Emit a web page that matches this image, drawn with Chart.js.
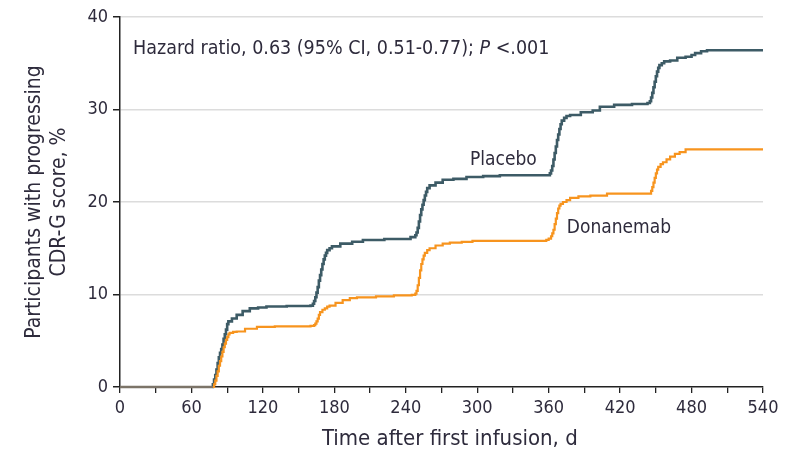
<!DOCTYPE html>
<html>
<head>
<meta charset="utf-8">
<script src="https://cdn.jsdelivr.net/npm/chart.js@4/dist/chart.umd.min.js"></script>
<style>
  html, body { margin: 0; padding: 0; background: #ffffff; }
  #wrap { width: 794px; height: 456px; }
</style>
</head>
<body>
<div id="wrap"><canvas id="km" width="794" height="456"></canvas></div>
<script>
// Cumulative share of participants with a progressing CDR-G score, [day, percent]
const placeboSteps = [
  [0,0],[77,0],[78,0.3],[79,0.8],[80,1.3],[81,1.9],[82,2.6],[83,3.2],[84,3.7],[85,4.1],
  [86,4.6],[87,5.2],[88,5.7],[89,6.2],[90,6.8],[91,7.1],[94,7.4],[98,7.8],[103,8.2],
  [109,8.5],[116,8.6],[123,8.7],[140,8.75],[160,8.8],[162,9.0],[163,9.3],[164,9.7],
  [165,10.2],[166,10.8],[167,11.5],[168,12.1],[169,12.7],[170,13.3],[171,13.8],[172,14.2],
  [173,14.5],[174,14.8],[176,15.0],[178,15.2],[185,15.5],[195,15.7],[204,15.9],[222,16.0],
  [244,16.2],[248,16.4],[249,16.7],[250,17.2],[251,17.9],[252,18.6],[253,19.2],[254,19.7],
  [255,20.2],[256,20.7],[257,21.1],[258,21.5],[260,21.8],[265,22.1],[271,22.4],[280,22.5],
  [291,22.7],[305,22.8],[319,22.9],[357,22.9],[361,23.1],[362,23.4],[363,23.9],[364,24.6],
  [365,25.3],[366,26.0],[367,26.7],[368,27.3],[369,27.9],[370,28.4],[371,28.8],[373,29.1],
  [375,29.3],[378,29.4],[387,29.7],[397,29.9],[403,30.3],[415,30.5],[430,30.6],[443,30.7],
  [445,30.9],[446,31.3],[447,31.8],[448,32.4],[449,33.0],[450,33.6],[451,34.1],[452,34.5],
  [453,34.8],[455,35.0],[457,35.2],[462,35.3],[468,35.6],[475,35.7],[480,35.9],[483,36.1],
  [488,36.3],[493,36.4],[540,36.4]
];
const donanemabSteps = [
  [0,0],[78,0],[79,0.3],[80,0.7],[81,1.2],[82,1.7],[83,2.3],[84,2.8],[85,3.3],[86,3.8],
  [87,4.3],[88,4.7],[89,5.1],[90,5.4],[91,5.7],[92,5.85],[95,5.95],[98,6.0],[105,6.3],
  [115,6.5],[130,6.55],[160,6.6],[163,6.7],[164,6.85],[165,7.1],[166,7.4],[167,7.8],
  [168,8.1],[170,8.35],[172,8.5],[174,8.7],[176,8.8],[181,9.1],[187,9.4],[193,9.6],
  [199,9.7],[215,9.8],[230,9.9],[245,9.95],[248,10.1],[249,10.4],[250,11.0],[251,11.8],
  [252,12.6],[253,13.3],[254,13.8],[255,14.2],[256,14.5],[258,14.8],[260,15.0],[265,15.3],
  [271,15.5],[277,15.6],[287,15.7],[296,15.8],[355,15.8],[358,15.9],[360,16.05],[362,16.3],
  [363,16.6],[364,17.0],[365,17.6],[366,18.2],[367,18.8],[368,19.3],[369,19.6],[370,19.8],
  [372,20.0],[375,20.2],[378,20.45],[385,20.6],[395,20.7],[409,20.9],[444,20.9],[446,21.2],
  [447,21.6],[448,22.1],[449,22.6],[450,23.1],[451,23.5],[452,23.8],[454,24.1],[456,24.3],
  [459,24.6],[462,24.9],[466,25.2],[470,25.4],[475,25.7],[540,25.7]
];
const seriesNames = ['Placebo', 'Donanemab'];
const dayTicks = [0, 60, 120, 180, 240, 300, 360, 420, 480, 540];
const pctTicks = [0, 10, 20, 30, 40];
const hazardParts = ['Hazard ratio, 0.63 (95% CI, 0.51-0.77); ', 'P', ' <.001'];
const xTitle = 'Time after first infusion, d';
const yTitle = ['Participants with progressing', 'CDR-G score, %'];

const FONT = "'DejaVu Sans Condensed', 'Liberation Sans Narrow', 'Open Sans', sans-serif";
const INK = '#2e2b3c';
const PLACEBO_COLOR = '#3d5b66';
const DONA_COLOR = '#f7941e';
const BASE_COLOR = '#7c7468';

const toPoints = steps => steps.map(([d, p]) => ({ x: d, y: p }));
const baseSegment = color => ctx => (ctx.p0.parsed.y === 0 && ctx.p1.parsed.y === 0) ? BASE_COLOR : color;

// Curve labels, the hazard-ratio note and the time-axis title
const notesPlugin = {
  id: 'notes',
  afterDatasetsDraw(chart) {
    const { ctx, scales: { x, y } } = chart;
    ctx.save();
    ctx.fillStyle = INK;
    ctx.textBaseline = 'middle';
    const normal = `19.5px ${FONT}`;
    const italic = `italic 19.5px ${FONT}`;

    // hazard ratio line
    let px = x.getPixelForValue(11);
    const py = y.getPixelForValue(36.5);
    ctx.textAlign = 'left';
    hazardParts.forEach((part, i) => {
      ctx.font = i === 1 ? italic : normal;
      ctx.fillText(part, px, py);
      px += ctx.measureText(part).width;
    });

    ctx.font = `19px ${FONT}`;
    ctx.textAlign = 'center';
    ctx.fillText(seriesNames[0], x.getPixelForValue(322), y.getPixelForValue(24.5));
    ctx.fillText(seriesNames[1], x.getPixelForValue(419), y.getPixelForValue(17.2));

    // axis title under the day ticks
    ctx.font = `22px ${FONT}`;
    ctx.fillText(xTitle, x.getPixelForValue(277), x.bottom - 17);
    ctx.restore();
  }
};

new Chart(document.getElementById('km'), {
  type: 'line',
  data: {
    datasets: [
      {
        label: seriesNames[1],
        data: toPoints(donanemabSteps),
        borderColor: DONA_COLOR,
        borderWidth: 2.2,
        stepped: true,
        pointRadius: 0,
        clip: 4,
        order: 0,
        segment: { borderColor: baseSegment(DONA_COLOR) }
      },
      {
        label: seriesNames[0],
        data: toPoints(placeboSteps),
        borderColor: PLACEBO_COLOR,
        borderWidth: 2.6,
        stepped: true,
        pointRadius: 0,
        clip: 4,
        order: 1,
        segment: { borderColor: baseSegment(PLACEBO_COLOR) }
      }
    ]
  },
  options: {
    responsive: false,
    animation: false,
    events: [],
    layout: { padding: { top: 17, right: 31, left: 0, bottom: 0 } },
    plugins: { legend: { display: false }, tooltip: { enabled: false } },
    scales: {
      x: {
        type: 'linear',
        min: 0,
        max: 540,
        afterBuildTicks(scale) {
          const t = [];
          for (let v = 0; v <= 540; v += 30) t.push({ value: v });
          scale.ticks = t;
        },
        afterFit(scale) { scale.height = 69; },
        ticks: {
          autoSkip: false,
          maxRotation: 0,
          padding: 5,
          color: INK,
          font: { family: FONT, size: 18 },
          callback: v => dayTicks.includes(v) ? String(v) : ''
        },
        grid: {
          drawOnChartArea: false,
          drawTicks: true,
          tickLength: 6,
          tickColor: '#222',
          lineWidth: 1.3
        },
        border: { color: '#222', width: 1.5 },
        title: { display: false }
      },
      y: {
        min: 0,
        max: 40,
        afterBuildTicks(scale) { scale.ticks = pctTicks.map(v => ({ value: v })); },
        afterFit(scale) { scale.width = 120; },
        ticks: {
          padding: 5,
          color: INK,
          font: { family: FONT, size: 18 },
          callback: v => String(v)
        },
        grid: {
          color: ctx => ctx.tick && ctx.tick.value === 0 ? 'rgba(0,0,0,0)' : '#dcdcdc',
          lineWidth: 1.5,
          drawTicks: true,
          tickLength: 7,
          tickColor: '#222'
        },
        border: { color: '#222', width: 1.5 },
        title: {
          display: true,
          text: yTitle,
          color: INK,
          font: { family: FONT, size: 21, lineHeight: 1.2 },
          padding: { top: 22, bottom: 0 }
        }
      }
    }
  },
  plugins: [notesPlugin]
});
</script>
</body>
</html>
